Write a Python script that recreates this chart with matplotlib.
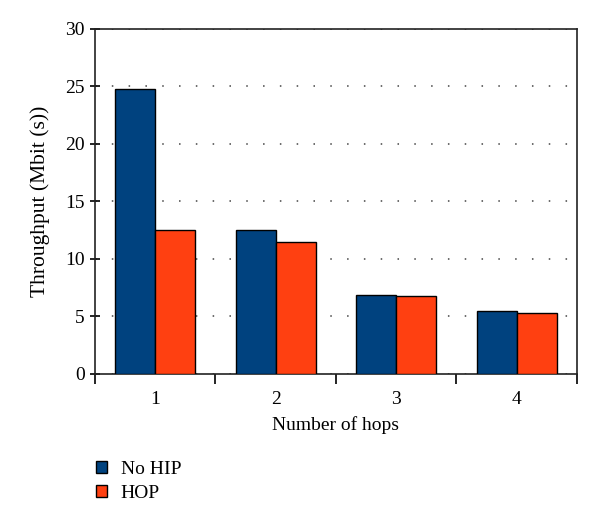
import matplotlib
matplotlib.use("Agg")
import matplotlib.pyplot as plt
import numpy as np
from matplotlib.patches import Patch

categories = ["1", "2", "3", "4"]
no_hip = [24.8, 12.5, 6.9, 5.45]
hop = [12.5, 11.45, 6.8, 5.28]
series_names = ["No HIP", "HOP"]
colors = ["#00427f", "#ff4011"]

plt.rcParams['font.family'] = ['Liberation Serif', 'DejaVu Serif']
plt.rcParams['font.size'] = 14

fig = plt.figure(figsize=(6.0, 5.26), dpi=100)
ax = fig.add_axes([0.1583, 0.289, 0.8033, 0.6559])

x = np.arange(len(categories))
w = 1/3
ax.bar(x - w/2, no_hip, w, color=colors[0], edgecolor="black", linewidth=1.0, zorder=3)
ax.bar(x + w/2, hop, w, color=colors[1], edgecolor="black", linewidth=1.0, zorder=3)

ax.set_xlim(-0.5, len(categories) - 0.5)
ax.set_ylim(0, 30)
ax.set_yticks(np.arange(0, 31, 5))
ax.set_xticks(x)
ax.set_xticklabels(categories)
ax.tick_params(axis='x', which='major', length=0, pad=12)
ax.set_xticks(np.arange(-0.5, len(categories), 1), minor=True)
ax.tick_params(axis='x', which='minor', length=7, direction='out', width=1.2)
ax.tick_params(axis='y', length=7, direction='inout', width=1.2, pad=4)
ax.yaxis.grid(True, linestyle=(0, (1, 10)), color="#444444", linewidth=1.1, zorder=0)
for s in ax.spines.values():
    s.set_linewidth(1.2)
    s.set_color("#222222")

ax.set_xlabel("Number of hops", labelpad=6)
ax.set_ylabel("Throughput (Mbit (s))", labelpad=11, fontsize=15.5)

handles = [Patch(facecolor=c, edgecolor="black", linewidth=1.0) for c in colors]
fig.legend(handles, series_names, loc="upper left", bbox_to_anchor=(0.13, 0.157),
           frameon=False, handlelength=0.6, handleheight=0.6, handletextpad=0.7,
           labelspacing=0.35, fontsize=14)

fig.savefig("out.png", dpi=100)
